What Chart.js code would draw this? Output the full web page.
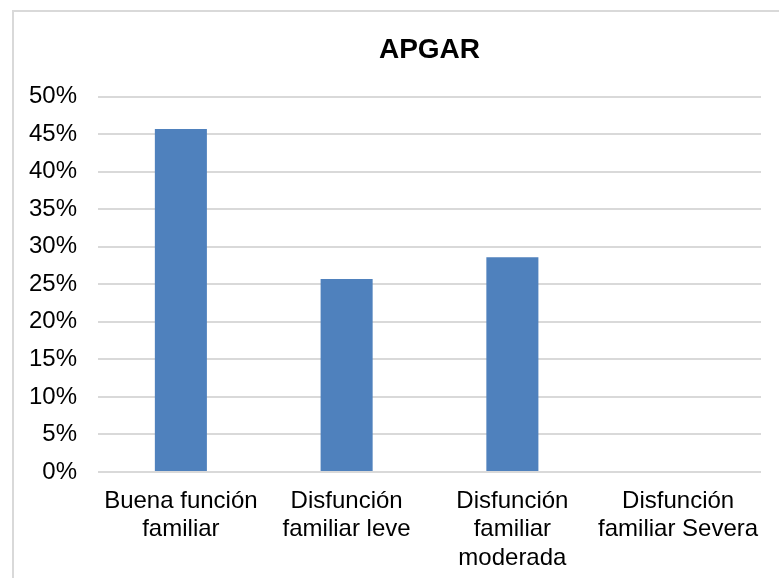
<!DOCTYPE html>
<html>
<head>
<meta charset="utf-8">
<script src="https://cdn.jsdelivr.net/npm/chart.js@4"></script>
<style>
  body { margin: 0; background: #fff; overflow: hidden; }
  #frame { position: absolute; left: 12px; top: 10px; width: 800px; height: 600px; border: 2px solid #d9d9d9; }
  #wrap { position: absolute; left: 0; top: 0; width: 779px; height: 578px; }
</style>
</head>
<body>
<div id="frame"></div>
<div id="wrap"><canvas id="myChart"></canvas></div>
<script>
// APGAR results, percent of respondents
const categories = [
  ['Buena función', 'familiar'],
  ['Disfunción', 'familiar leve'],
  ['Disfunción', 'familiar', 'moderada'],
  ['Disfunción', 'familiar Severa']
];
const values = [45.7, 25.7, 28.6, 0];
const tickStep = 5;
const tickMax = 50;

var ctx = document.getElementById('myChart').getContext('2d');
var myChart = new Chart(ctx, {
  type: 'bar',
  data: {
    labels: categories,
    datasets: [{
      label: 'APGAR',
      data: values,
      backgroundColor: '#4f81bd',
      categoryPercentage: 1,
      barPercentage: 0.314
    }]
  },
  options: {
    responsive: true,
    maintainAspectRatio: false,
    animation: false,
    layout: { padding: { left: 0, right: 18, top: 0, bottom: 0 } },
    plugins: {
      legend: { display: false },
      tooltip: { enabled: false },
      title: {
        display: true,
        fullSize: false, // center over the plot area, like the original
        text: 'APGAR',
        color: '#000',
        font: { family: 'Liberation Sans', size: 28, weight: 'bold' },
        padding: { top: 33, bottom: 30 }
      }
    },
    scales: {
      x: {
        grid: { display: false, drawTicks: false },
        border: { display: false },
        ticks: {
          color: '#000',
          font: { family: 'Liberation Sans', size: 24, lineHeight: 1.19 },
          padding: 15,
          maxRotation: 0,
          autoSkip: false
        },
        afterFit: function(scale) { scale.height = 106; }
      },
      y: {
        min: 0,
        max: tickMax,
        grid: { color: '#d9d9d9', lineWidth: 2, drawTicks: false },
        border: { display: false },
        ticks: {
          stepSize: tickStep,
          color: '#000',
          font: { family: 'Liberation Sans', size: 24 },
          padding: 21,
          callback: function(v) { return v + '%'; }
        },
        afterFit: function(scale) { scale.width = 98; }
      }
    }
  }
});
</script>
</body>
</html>
